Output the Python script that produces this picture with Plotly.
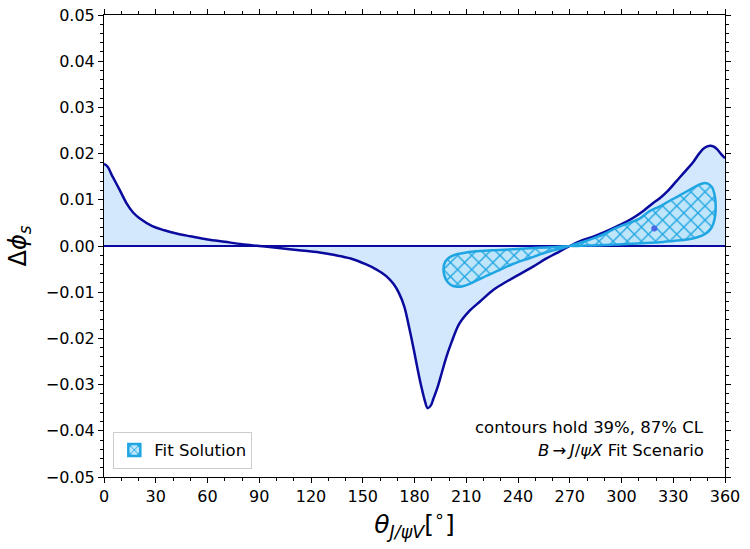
import plotly.graph_objects as go

# Delta phi_s curve vs theta
theta = [0, 2, 5, 9, 13, 17, 21, 28, 35, 42, 50, 60, 70, 80, 90, 100, 113, 125, 133, 143,
         152, 158, 161, 165, 168, 171, 174, 177, 180, 182, 184, 186, 187.6, 189.5, 191,
         193, 195.7, 198.5, 201.5, 206, 212, 218, 226, 233, 240, 249, 256, 262, 270,
         277, 284, 290, 297, 303, 308, 313, 318, 322, 327, 332, 337, 341.6, 345, 348,
         351.3, 353.5, 355.5, 357.5, 360]
dphi = [0.0178, 0.0172, 0.0150, 0.0122, 0.0093, 0.0072, 0.0059, 0.0043, 0.0034, 0.0027,
        0.0021, 0.0014, 0.0009, 0.0004, 0.0000, -0.0004, -0.0009, -0.0014, -0.0019,
        -0.0027, -0.0040, -0.0051, -0.0058, -0.0070, -0.0083, -0.0102, -0.0130, -0.0178,
        -0.0232, -0.0270, -0.0305, -0.0335, -0.0351, -0.0345, -0.0330, -0.0310, -0.0276,
        -0.0240, -0.0208, -0.0168, -0.0140, -0.0120, -0.0094, -0.0078, -0.0063, -0.0044,
        -0.0028, -0.0016, 0.0000, 0.0012, 0.0021, 0.0030, 0.0042, 0.0053, 0.0064,
        0.0077, 0.0092, 0.0103, 0.0120, 0.0141, 0.0162, 0.0182, 0.0200, 0.0212,
        0.0217, 0.0215, 0.0209, 0.0200, 0.0190]

# Fit solution contour (two lobes meeting at 270 deg)
contour_theta = [270, 262.5, 256.5, 247, 237, 227, 218, 210, 204.5, 200.5, 197.8, 196.8,
                 197.5, 199.2, 201.5, 204.5, 208, 212, 217, 222, 228, 237, 247, 256, 263, 270,
                 None,
                 270, 277, 284, 290, 297, 303, 310, 316.5, 322.3, 328, 333, 337.7, 342,
                 345, 347.5, 350, 352.5, 354, 354.6, 354.3, 353.2, 351.5, 348.5, 344,
                 338, 330, 322, 312, 300, 290, 280, 270]
contour_dphi = [0.0000, -0.0002, -0.0003, -0.0005, -0.0007, -0.0009, -0.0011, -0.0014,
                -0.0018, -0.0024, -0.0034, -0.0050, -0.0066, -0.0078, -0.0085, -0.0088,
                -0.0087, -0.0082, -0.0073, -0.0064, -0.0054, -0.0039, -0.0026, -0.0014,
                -0.0007, 0.0000,
                None,
                0.0000, 0.0008, 0.0017, 0.0026, 0.0039, 0.0048, 0.0058, 0.0076, 0.0086,
                0.0098, 0.0108, 0.0118, 0.0127, 0.0133, 0.0136, 0.0135, 0.0127, 0.0110,
                0.0088, 0.0066, 0.0048, 0.0036, 0.0026, 0.0019, 0.0014, 0.0011, 0.0008,
                0.0006, 0.0004, 0.0002, 0.0001, 0.0000]

best_theta = [319]
best_dphi = [0.0038]

x_ticks = list(range(0, 361, 30))
y_ticks = [-0.05, -0.04, -0.03, -0.02, -0.01, 0.0, 0.01, 0.02, 0.03, 0.04, 0.05]

LINE = "#0a0a9e"
FILL = "#d3e8fd"
CEDGE = "#1fa6e2"
CFILL = "#bfe5fa"

fig = go.Figure()

fig.add_trace(go.Scatter(x=theta, y=dphi, mode="lines", fill="tozeroy",
                         fillcolor=FILL, line=dict(color=LINE, width=2.5, shape="spline"),
                         showlegend=False, hoverinfo="skip"))

fig.add_trace(go.Scatter(x=[0, 360], y=[0, 0], mode="lines",
                         line=dict(color=LINE, width=2.2), showlegend=False))

fig.add_trace(go.Scatter(x=contour_theta, y=contour_dphi, mode="lines", fill="toself",
                         connectgaps=False,
                         fillcolor=CFILL,
                         fillpattern=dict(shape="x", fgcolor=CEDGE, bgcolor=CFILL,
                                          size=10, solidity=0.25, fillmode="replace"),
                         line=dict(color=CEDGE, width=2.5, shape="spline", smoothing=0.8),
                         showlegend=False))

# legend-only patch
fig.add_trace(go.Bar(x=[None], y=[None], name="Fit Solution",
                     marker=dict(color=CFILL, line=dict(color=CEDGE, width=2.5),
                                 pattern=dict(shape="x", fgcolor=CEDGE, bgcolor=CFILL,
                                              size=7, solidity=0.3, fillmode="replace"))))

fig.add_trace(go.Scatter(x=best_theta, y=best_dphi, mode="markers",
                         marker=dict(color="#4a68e6", size=6), showlegend=False))

fig.add_annotation(x=349, y=-0.0392, xref="x", yref="y", xanchor="right", yanchor="middle",
                   text="contours hold 39%, 87% CL", showarrow=False,
                   font=dict(size=16.5, color="black"))
fig.add_annotation(x=349, y=-0.0442, xref="x", yref="y", xanchor="right", yanchor="middle",
                   text="<i>B</i>\u2009\u2192\u2009<i>J</i>/<i>ψX</i> Fit Scenario", showarrow=False,
                   font=dict(size=16.5, color="black"))

axis_common = dict(showline=True, linecolor="black", linewidth=1, mirror="allticks",
                   ticks="outside", ticklen=5, tickwidth=1, tickcolor="black",
                   showgrid=False, zeroline=False, automargin=False,
                   ticklabeloverflow="allow",
                   tickfont=dict(size=16, color="black", family="DejaVu Sans"))

fig.update_xaxes(range=[0, 360], tickvals=x_ticks, ticktext=[str(v) for v in x_ticks],
                 minor=dict(ticks="outside", dtick=10, ticklen=3, tickcolor="black", showgrid=False),
                 title=dict(text="<i>θ</i><sub><i>J/ψV</i></sub>[<sup>∘</sup>]",
                            font=dict(size=25, color="black", family="DejaVu Sans"), standoff=4),
                 **axis_common)
fig.update_yaxes(range=[-0.05, 0.05], tickvals=y_ticks, tickformat=".2f",
                 minor=dict(ticks="outside", dtick=0.002, ticklen=3, tickcolor="black", showgrid=False),
                 title=dict(text="Δ<i>ϕ</i><sub><i>s</i></sub>",
                            font=dict(size=24, color="black", family="DejaVu Sans"), standoff=12),
                 **axis_common)

fig.update_layout(width=750, height=549,
                  margin=dict(l=104, r=25, t=15, b=72),
                  paper_bgcolor="white", plot_bgcolor="white",
                  font=dict(family="DejaVu Sans", color="black"),
                  showlegend=True,
                  legend=dict(x=0.015, y=0.018, xanchor="left", yanchor="bottom",
                              bgcolor="rgba(255,255,255,0.85)", bordercolor="#cccccc", borderwidth=1,
                              font=dict(size=16.5)))

# remove the default page margin so the figure sits at the window's top-left corner
fig.write_html("out.html", config={"displayModeBar": False},
               post_script="document.body.style.margin='0';document.body.style.overflow='hidden';")
